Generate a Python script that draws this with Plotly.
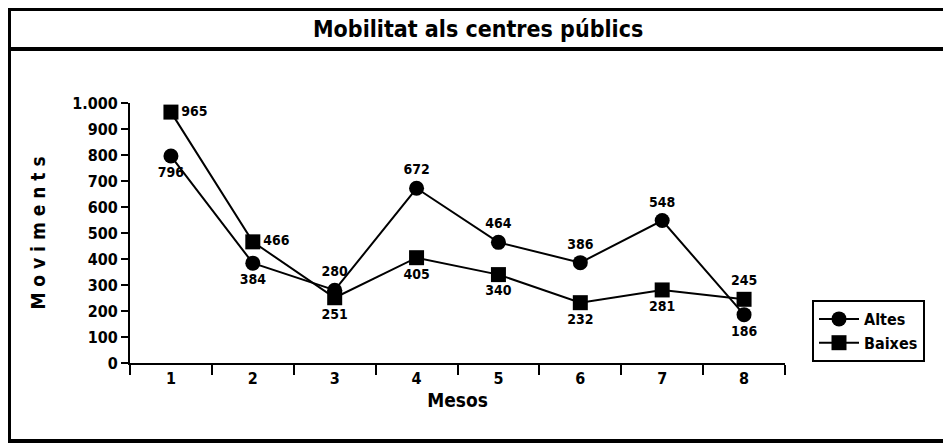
import plotly.graph_objects as go

meses = ["1", "2", "3", "4", "5", "6", "7", "8"]
altes = [796, 384, 280, 672, 464, 386, 548, 186]
baixes = [965, 466, 251, 405, 340, 232, 281, 245]
altes_pos = ["bottom center", "bottom center", "top center", "top center", "top center", "top center", "top center", "bottom center"]
baixes_pos = ["middle right", "middle right", "bottom center", "bottom center", "bottom center", "bottom center", "bottom center", "top center"]

FONT = "DejaVu Sans Condensed, Liberation Sans Narrow, sans-serif"
OFF = 8  # page body margin
W, H = 951, 446
L, T = 130 - OFF, 103 - OFF
pw, ph = 655, 260
R = W - L - pw
B = H - T - ph

def xp(px):
    return (px - OFF - L) / pw

def yp(py):
    return (T + ph - (py - OFF)) / ph

fig = go.Figure()
fig.add_trace(go.Scatter(
    x=meses, y=altes, name="Altes", mode="lines+markers+text",
    line=dict(color="black", width=2),
    marker=dict(symbol="circle", size=15, color="black"),
    text=[str(v) for v in altes], textposition=altes_pos,
    textfont=dict(family=FONT, size=14, color="black", weight="bold"),
))
fig.add_trace(go.Scatter(
    x=meses, y=baixes, name="Baixes", mode="lines+markers+text",
    line=dict(color="black", width=2),
    marker=dict(symbol="square", size=15, color="black"),
    text=[str(v) for v in baixes], textposition=baixes_pos,
    textfont=dict(family=FONT, size=14, color="black", weight="bold"),
))

shapes = [
    dict(type="rect", xref="paper", yref="paper", x0=xp(9), x1=xp(948), y0=yp(441), y1=yp(9),
         line=dict(color="black", width=4)),
    dict(type="line", xref="paper", yref="paper", x0=xp(9), x1=xp(948), y0=yp(49), y1=yp(49),
         line=dict(color="black", width=4)),
]

fig.update_layout(
    width=W, height=H,
    margin=dict(l=L, r=R, t=T, b=B),
    paper_bgcolor="white", plot_bgcolor="white",
    separators=",.",
    font=dict(family=FONT, color="black", size=15, weight="bold"),
    showlegend=True,
    legend=dict(x=xp(812), y=yp(300), xanchor="left", yanchor="top",
                bordercolor="black", borderwidth=2, bgcolor="white",
                font=dict(family=FONT, size=16, color="black", weight="bold"),
                itemwidth=40, tracegroupgap=2),
    shapes=shapes,
    annotations=[dict(text="Mobilitat als centres públics", xref="paper", yref="paper",
                      x=xp(478), y=yp(29), xanchor="center", yanchor="middle", showarrow=False,
                      font=dict(family=FONT, size=23, color="black", weight="bold"))],
    xaxis=dict(type="category", tickson="boundaries", ticks="outside", ticklen=10, tickwidth=2,
               tickcolor="black", showline=True, linecolor="black", linewidth=2, showgrid=False,
               range=[-0.5, 7.5], tickfont=dict(size=16),
               title=dict(text="Mesos", font=dict(size=19), standoff=6)),
    yaxis=dict(range=[0, 1000], dtick=100, tickformat=",d", ticks="outside", ticklen=7, tickwidth=2,
               tickcolor="black", showline=True, linecolor="black", linewidth=2, showgrid=False,
               zeroline=False, tickfont=dict(size=16),
               title=dict(text="M o v i m e n t s", font=dict(size=19), standoff=22)),
)

fig.write_html("out.html")
